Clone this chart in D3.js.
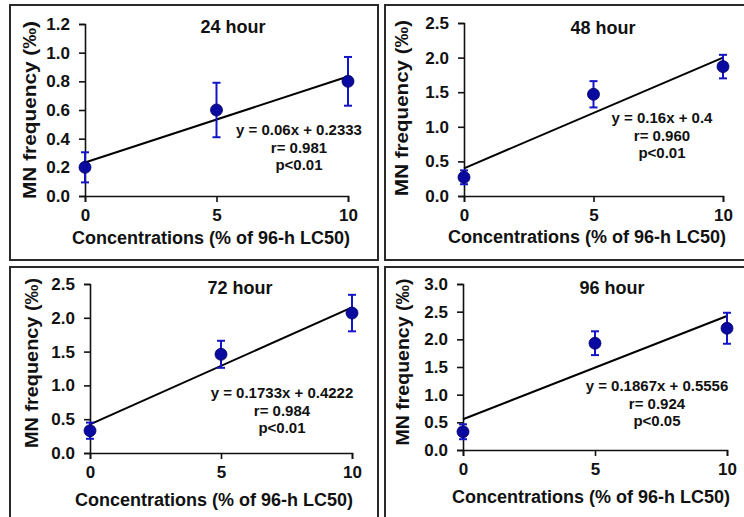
<!DOCTYPE html>
<html>
<head>
<meta charset="utf-8">
<script src="https://cdn.jsdelivr.net/npm/d3@7"></script>
<style>
  html, body { margin: 0; padding: 0; background: #fff; }
  svg { display: block; }
  text { font-family: "Liberation Sans", Arial, sans-serif; font-weight: bold; fill: #111; }
</style>
</head>
<body>
<svg id="chart" width="744" height="517"></svg>
<script>
// Micronucleus frequency vs. exposure concentration, four exposure times
const concentrations = [0, 5, 10];
const panelTitles = ["24 hour", "48 hour", "72 hour", "96 hour"];

const mean24h = [0.2, 0.6, 0.8];
const err24h  = [0.105, 0.19, 0.17];
const mean48h = [0.27, 1.47, 1.87];
const err48h  = [0.1, 0.19, 0.17];
const mean72h = [0.33, 1.46, 2.07];
const err72h  = [0.12, 0.2, 0.27];
const mean96h = [0.33, 1.93, 2.2];
const err96h  = [0.135, 0.215, 0.28];

const slopes     = [0.06, 0.16, 0.1733, 0.1867];
const intercepts = [0.2333, 0.4, 0.4222, 0.5556];
const eqLabels   = ["y = 0.06x + 0.2333", "y = 0.16x + 0.4", "y = 0.1733x + 0.4222", "y = 0.1867x + 0.5556"];
const rLabels    = ["r= 0.981", "r= 0.960", "r= 0.984", "r= 0.924"];
const pLabels    = ["p<0.01", "p<0.01", "p<0.01", "p<0.05"];

const yMaxima    = [1.2, 2.5, 2.5, 3.0];
const yTickSteps = [0.2, 0.5, 0.5, 0.5];
const xTickLabels = ["0", "5", "10"];

const xTitle = "Concentrations (% of 96-h LC50)";
const yTitle = "MN frequency (\u2030)";

const means = [mean24h, mean48h, mean72h, mean96h];
const errs  = [err24h, err48h, err72h, err96h];

// Panel geometry: frame box, plot area and text anchors
const layout = [
  { box: [10, 5, 368, 255],  x0: 85,  x1: 348, yb: 196, yt: 24,
    title: [233, 33], xt: [211, 244], yt2: [30, 110, 178], eq: [299, 130] },
  { box: [385, 5, 361, 255], x0: 464, x1: 723, yb: 196, yt: 23,
    title: [603, 34], xt: [587, 243], yt2: [402, 108, 176], eq: [662, 118] },
  { box: [10, 267, 368, 252], x0: 90, x1: 352, yb: 453, yt: 284,
    title: [240, 294], xt: [214, 506], yt2: [32, 363, 170], eq: [282, 393] },
  { box: [385, 267, 361, 252], x0: 463, x1: 727, yb: 450, yt: 284,
    title: [612, 294], xt: [591, 503], yt2: [403, 362, 167], eq: [657, 386] }
];

const svg = d3.select("#chart");
const blue = "#1414c8";
const dotFill = "#0a0aa0";

layout.forEach((L, i) => {
  const g = svg.append("g");

  g.append("rect")
    .attr("x", L.box[0]).attr("y", L.box[1])
    .attr("width", L.box[2]).attr("height", L.box[3])
    .attr("fill", "none").attr("stroke", "#2a2a2a").attr("stroke-width", 2);

  const x = d3.scaleLinear().domain([0, 10]).range([L.x0, L.x1]);
  const y = d3.scaleLinear().domain([0, yMaxima[i]]).range([L.yb, L.yt]);

  const yTicks = d3.range(0, yMaxima[i] + 1e-9, yTickSteps[i]);

  const xAxis = g.append("g")
    .attr("transform", `translate(0,${L.yb})`)
    .call(d3.axisBottom(x).tickValues(concentrations)
      .tickFormat((d, k) => xTickLabels[k]).tickSizeOuter(0).tickSize(6).tickPadding(7));
  const yAxis = g.append("g")
    .attr("transform", `translate(${L.x0},0)`)
    .call(d3.axisLeft(y).tickValues(yTicks).tickFormat(d3.format(".1f"))
      .tickSizeOuter(0).tickSize(6).tickPadding(9));

  [xAxis, yAxis].forEach(a => {
    a.select(".domain").attr("stroke", "#111").attr("stroke-width", 1.6);
    a.selectAll(".tick line").attr("stroke", "#111").attr("stroke-width", 1.6);
    a.selectAll(".tick text").style("font-size", "17px").attr("fill", "#111");
  });

  // regression line
  g.append("line")
    .attr("x1", x(0)).attr("y1", y(intercepts[i]))
    .attr("x2", x(10)).attr("y2", y(intercepts[i] + slopes[i] * 10))
    .attr("stroke", "#000").attr("stroke-width", 2);

  // error bars and mean points
  const pts = concentrations.map((c, k) => ({ c, m: means[i][k], e: errs[i][k] }));
  const eb = g.selectAll(".eb").data(pts).enter().append("g");
  eb.append("line")
    .attr("x1", d => x(d.c)).attr("x2", d => x(d.c))
    .attr("y1", d => y(d.m - d.e)).attr("y2", d => y(d.m + d.e))
    .attr("stroke", blue).attr("stroke-width", 2);
  [-1, 1].forEach(s => {
    eb.append("line")
      .attr("x1", d => x(d.c) - 4).attr("x2", d => x(d.c) + 4)
      .attr("y1", d => y(d.m + s * d.e)).attr("y2", d => y(d.m + s * d.e))
      .attr("stroke", blue).attr("stroke-width", 2);
  });
  eb.append("circle")
    .attr("cx", d => x(d.c)).attr("cy", d => y(d.m)).attr("r", 6)
    .attr("fill", dotFill).attr("stroke", "#000060").attr("stroke-width", 0.8);

  // titles
  g.append("text").attr("x", L.title[0]).attr("y", L.title[1])
    .attr("text-anchor", "middle").style("font-size", "18px").text(panelTitles[i]);
  g.append("text").attr("x", L.xt[0]).attr("y", L.xt[1])
    .attr("text-anchor", "middle").style("font-size", "18px").text(xTitle);
  g.append("text")
    .attr("transform", `translate(${L.yt2[0]},${L.yt2[1]}) rotate(-90)`)
    .attr("text-anchor", "middle").attr("dy", "0.35em")
    .attr("textLength", L.yt2[2]).attr("lengthAdjust", "spacingAndGlyphs")
    .style("font-size", "18px").text(yTitle);

  // equation block
  [eqLabels[i], rLabels[i], pLabels[i]].forEach((t, k) => {
    g.append("text").attr("x", L.eq[0]).attr("y", L.eq[1] + k * 17.5)
      .attr("text-anchor", "middle").attr("dy", "0.35em")
      .style("font-size", "15px").text(t);
  });
});
</script>
</body>
</html>
